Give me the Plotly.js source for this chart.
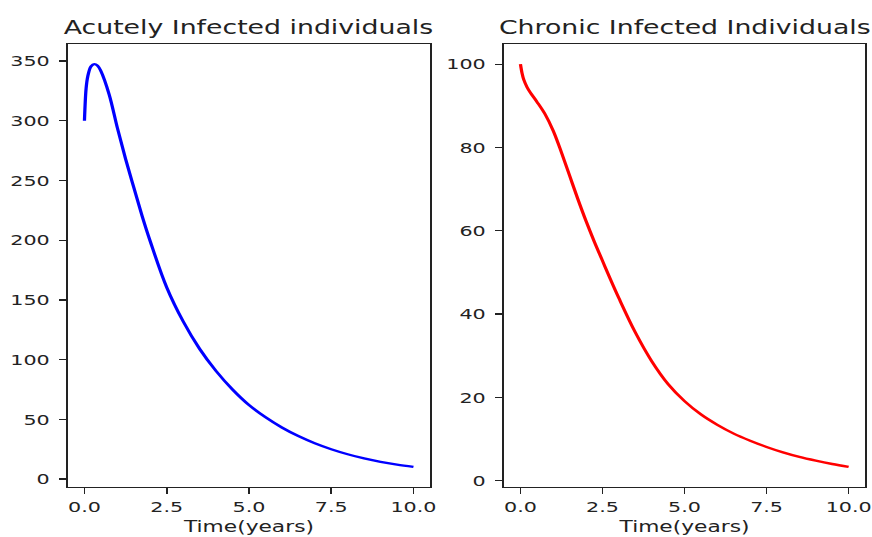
<!DOCTYPE html>
<html>
<head>
<meta charset="utf-8">
<script src="https://cdn.plot.ly/plotly-3.0.1.min.js"></script>
<style>
  html, body { margin: 0; padding: 0; background: #fff; overflow: hidden; }
  #wrap { width: 872px; height: 537px; overflow: hidden; }
  /* figure is laid out at 561x480 and stretched to fill the window */
  #chart { width: 561px; height: 480px; transform: scale(1.5544, 1.11875); transform-origin: 0 0; }
</style>
</head>
<body>
<div id="wrap"><div id="chart"></div></div>
<script>
// Time axis (years)
const tAcute = [0, 0.05, 0.1, 0.2, 0.3, 0.4, 0.5, 0.75, 1.0, 1.25, 1.5, 1.75, 2.0, 2.5, 3.0, 3.5, 4.0, 4.5, 5.0, 5.5, 6.0, 6.5, 7.0, 7.5, 8.0, 8.5, 9.0, 9.5, 10.0];
// Acutely infected individuals
const acute = [300, 327, 337, 345.5, 347.3, 346, 341.5, 322, 294, 268, 244, 220.5, 199, 160.5, 132, 109, 90.5, 75, 62, 51.8, 43.2, 36, 30, 25, 20.8, 17.3, 14.4, 12.1, 10.2];

const tChronic = [0, 0.05, 0.1, 0.2, 0.3, 0.5, 0.75, 1.0, 1.25, 1.5, 1.75, 2.0, 2.25, 2.5, 2.75, 3.0, 3.5, 4.0, 4.5, 5.0, 5.5, 6.0, 6.5, 7.0, 7.5, 8.0, 8.5, 9.0, 9.5, 10.0];
// Chronic infected individuals
const chronic = [100, 97.8, 96.3, 94.5, 93.2, 91, 88, 84, 78.8, 73.2, 67.6, 62.3, 57.4, 52.8, 48.2, 43.8, 35.6, 28.7, 23.2, 19.1, 15.9, 13.4, 11.3, 9.6, 8.1, 6.8, 5.7, 4.8, 4.0, 3.3];

const titles = ['Acutely Infected individuals', 'Chronic Infected Individuals'];
const xLabel = 'Time(years)';
const xTickVals = [0, 2.5, 5, 7.5, 10];
const xTickText = ['0.0', '2.5', '5.0', '7.5', '10.0'];

// autoscale with a 5% margin on each side
function padded(arr) {
  const lo = Math.min(...arr), hi = Math.max(...arr);
  const m = (hi - lo) * 0.05;
  return [lo - m, hi + m];
}

const family = 'DejaVu Sans, sans-serif';
const ink = '#222';
const tickFont = { family: family, size: 13.3, color: ink };
const labelFont = { family: family, size: 14, color: ink };
const titleFont = { family: family, size: 17.2, color: ink };

function xAxis(domain, anchor, t) {
  return {
    domain: domain, anchor: anchor,
    range: padded(t), autorange: false,
    tickvals: xTickVals, ticktext: xTickText,
    ticks: 'outside', ticklen: 5, tickwidth: 1.1, tickcolor: ink,
    showline: true, mirror: true, linecolor: ink, linewidth: 1.1,
    showgrid: false, zeroline: false,
    tickfont: tickFont,
    title: { text: xLabel, font: labelFont, standoff: 6 }
  };
}
function yAxis(domain, anchor, data, dtick) {
  return {
    domain: domain, anchor: anchor,
    range: padded(data), autorange: false,
    dtick: dtick, tick0: 0,
    ticks: 'outside', ticklen: 5, tickwidth: 1.1, tickcolor: ink,
    showline: true, mirror: true, linecolor: ink, linewidth: 1.1,
    showgrid: false, zeroline: false,
    tickfont: tickFont, ticklabelstandoff: 3
  };
}

const dLeft = [0.078, 0.493];
const dRight = [0.578, 0.992];
const dY = [0.093, 0.918];

const traces = [
  { x: tAcute, y: acute, xaxis: 'x', yaxis: 'y', mode: 'lines',
    line: { color: '#0000ff', width: 2.1, shape: 'spline', smoothing: 1 } },
  { x: tChronic, y: chronic, xaxis: 'x2', yaxis: 'y2', mode: 'lines',
    line: { color: '#ff0000', width: 2.1, shape: 'spline', smoothing: 1 } }
];

const layout = {
  width: 561, height: 480,
  margin: { l: 0, r: 0, t: 0, b: 0 },
  paper_bgcolor: '#fff', plot_bgcolor: '#fff',
  showlegend: false,
  font: tickFont,
  xaxis: xAxis(dLeft, 'y', tAcute),
  yaxis: yAxis(dY, 'x', acute, 50),
  xaxis2: xAxis(dRight, 'y2', tChronic),
  yaxis2: yAxis(dY, 'x2', chronic, 20),
  annotations: [
    { text: titles[0], xref: 'paper', yref: 'paper', x: (dLeft[0] + dLeft[1]) / 2, y: dY[1],
      xanchor: 'center', yanchor: 'bottom', yshift: 3, showarrow: false, font: titleFont },
    { text: titles[1], xref: 'paper', yref: 'paper', x: (dRight[0] + dRight[1]) / 2, y: dY[1],
      xanchor: 'center', yanchor: 'bottom', yshift: 3, showarrow: false, font: titleFont }
  ]
};

Plotly.newPlot('chart', traces, layout, { displayModeBar: false, staticPlot: true });
</script>
</body>
</html>
